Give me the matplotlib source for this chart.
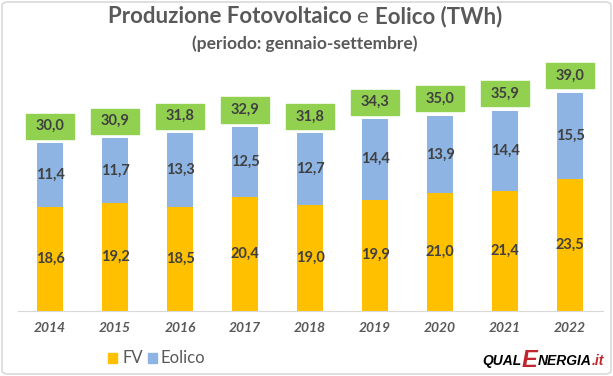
import matplotlib.pyplot as plt
import numpy as np
from matplotlib.patches import FancyBboxPatch, Rectangle

plt.rcParams['font.family'] = ['Lato', 'DejaVu Sans']

years  = ['2014', '2015', '2016', '2017', '2018', '2019', '2020', '2021', '2022']
fv     = [18.6, 19.2, 18.5, 20.4, 19.0, 19.9, 21.0, 21.4, 23.5]
eolico = [11.4, 11.7, 13.3, 12.5, 12.7, 14.4, 13.9, 14.4, 15.5]
totale = [30.0, 30.9, 31.8, 32.9, 31.8, 34.3, 35.0, 35.9, 39.0]

c_fv = '#FFC000'
c_eo = '#8EB4E3'
c_tot = '#92D050'
c_txt = '#404040'
c_gray = '#595959'

W, H = 613, 376
fig = plt.figure(figsize=(W / 100, H / 100), dpi=100)
renderer = fig.canvas.get_renderer()

def place_row(parts, x_start, y_px):
    # parts: list of (text, kwargs, baseline shift px); laid out left to right
    xpos = x_start
    for s, kw, dy in parts:
        t = fig.text(xpos / W, 1 - (y_px + dy) / H, s, ha='left', va='baseline', **kw)
        xpos += t.get_window_extent(renderer).width
    return xpos - x_start

def row_width(parts):
    tot = 0
    for s, kw, dy in parts:
        t = fig.text(0, 0, s, **kw)
        tot += t.get_window_extent(renderer).width
        t.remove()
    return tot

# axes placement in pixels: baseline at y=311, 5.6 px per TWh
y0, top = 311, 60
ax = fig.add_axes([17.5 / W, (H - y0) / H, 585 / W, (y0 - top) / H])
ax.set_xlim(-0.5, 8.5)
ax.set_ylim(0, (y0 - top) / 5.6)

x = np.arange(len(years))
ax.bar(x, fv, width=0.41, color=c_fv, zorder=2)
ax.bar(x, eolico, width=0.41, bottom=fv, color=c_eo, zorder=2)

for i in range(len(years)):
    ax.text(x[i], fv[i] / 2, f"{fv[i]:.1f}".replace('.', ','), ha='center', va='center',
            fontsize=10.5, fontweight='bold', color=c_txt)
    ax.text(x[i], fv[i] + eolico[i] / 2, f"{eolico[i]:.1f}".replace('.', ','), ha='center',
            va='center', fontsize=10.5, fontweight='bold', color=c_txt)
    yb = fv[i] + eolico[i] + 0.75
    ax.add_patch(Rectangle((x[i] - 0.375, yb), 0.75, 4.5, color=c_tot, zorder=3, clip_on=False))
    ax.text(x[i], yb + 2.25, f"{totale[i]:.1f}".replace('.', ','), ha='center', va='center',
            fontsize=10.5, fontweight='bold', color=c_txt, zorder=4)

for s in ['top', 'right', 'left']:
    ax.spines[s].set_visible(False)
ax.spines['bottom'].set_color('#D9D9D9')
ax.set_yticks([])
ax.set_xticks(x)
ax.set_xticklabels(years, fontsize=10, fontweight='bold', fontstyle='italic', color=c_gray)
ax.tick_params(axis='x', length=0, pad=8)

# titles
tb = dict(fontsize=16, fontweight='bold', color=c_gray)
tn = dict(fontsize=16, color=c_gray)
title_parts = [('Produzione Fotovoltaico ', tb, 0), ('e ', tn, 0), ('Eolico (TWh)', tb, 0)]
tw = row_width(title_parts)
place_row(title_parts, 305 - tw / 2, 23)
fig.text(305 / W, 1 - 44 / H, '(periodo: gennaio-settembre)', ha='center', va='center',
         fontsize=12.5, fontweight='bold', color=c_gray)

# legend
fig.patches.append(Rectangle((108 / W, 1 - 363 / H), 9 / W, 10 / H, color=c_fv,
                             transform=fig.transFigure))
fig.text(122 / W, 1 - 358 / H, 'FV', ha='left', va='center', fontsize=12, color=c_gray)
fig.patches.append(Rectangle((148 / W, 1 - 363 / H), 9 / W, 10 / H, color=c_eo,
                             transform=fig.transFigure))
fig.text(161 / W, 1 - 358 / H, 'Eolico', ha='left', va='center', fontsize=12, color=c_gray)

# logo
lk = dict(fontweight='heavy', fontstyle='italic', family=['Liberation Sans', 'DejaVu Sans'])
logo_parts = [('QUAL', dict(fontsize=10, color='black', **lk), 0),
              ('E', dict(fontsize=17, color='#C0262D', **lk), 2),
              ('NERGIA', dict(fontsize=10, color='black', **lk), 0),
              ('.it', dict(fontsize=10, color='#C0262D', **lk), 0)]
lw = row_width(logo_parts)
place_row(logo_parts, 604 - lw, 365)

# outer frame
fig.patches.append(FancyBboxPatch((2 / W, 2 / H), (W - 4) / W, (H - 4) / H,
                                  boxstyle='round,pad=0,rounding_size=0.01',
                                  fill=False, edgecolor='#D9D9D9', linewidth=1.2,
                                  transform=fig.transFigure))

fig.savefig('out.png', dpi=100)
